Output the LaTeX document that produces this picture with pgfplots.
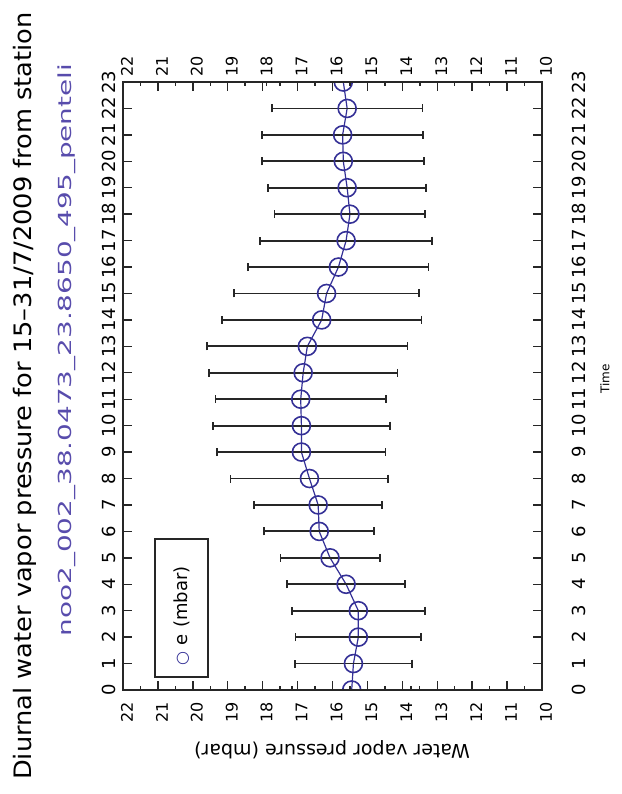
\documentclass[border=0pt]{standalone}
\usepackage{pgfplots}
\pgfplotsset{compat=1.18}
\usepackage{pgfplotstable}
\usepackage{graphicx}
\usepackage{fontspec}
\setmainfont{DejaVu Sans}
\definecolor{markblue}{RGB}{52,48,150}
\definecolor{subblue}{RGB}{88,76,172}

\pgfplotstableread{
t p e
0 15.45 1.70
1 15.40 1.67
2 15.26 1.80
3 15.26 1.91
4 15.61 1.69
5 16.07 1.42
6 16.38 1.58
7 16.41 1.83
8 16.66 2.26
9 16.89 2.41
10 16.89 2.53
11 16.91 2.44
12 16.84 2.70
13 16.72 2.87
14 16.31 2.86
15 16.17 2.65
16 15.83 2.58
17 15.61 2.47
18 15.50 2.16
19 15.58 2.26
20 15.69 2.32
21 15.71 2.30
22 15.58 2.16
23 15.69 2.20
}\vapordata

\pgfplotsset{
  common/.style={
    scale only axis, width=209.5pt, height=304pt,
    xmin=10, xmax=22, x dir=reverse, ymin=0, ymax=23,
    xtick={10,11,...,22}, ytick={0,1,...,23},
    minor x tick num=1,
    tick align=inside, major tick length=4.5pt, minor tick length=2pt,
    axis line style={line width=0.9pt, black!85},
    tick style={line width=0.7pt, black!85},
    /pgf/number format/assume math mode=true,
    clip marker paths=true,
  }
}

\begin{document}
\begin{tikzpicture}
\useasboundingbox (-61.5pt,-52pt) rectangle (249.5pt,345pt);

\begin{axis}[common,
  xticklabel style={font=\fontsize{8}{9}\selectfont, anchor=center, yshift=-11pt, xshift=2pt, rotate=90},
  yticklabel style={font=\fontsize{9}{10}\selectfont, anchor=center, xshift=-7pt, rotate=90},
]
\addplot[color=markblue, line width=0.6pt, mark=o, mark size=4.5pt,
  mark options={line width=0.8pt, markblue},
  error bars/.cd, x dir=both, x explicit,
  error bar style={black!85, line width=0.9pt},
  error mark options={black!85, line width=0.9pt, mark size=2pt, rotate=90}]
  table[x=p, y=t, x error=e] {\vapordata};
\end{axis}

\begin{axis}[common,
  xticklabel pos=right, yticklabel pos=right,
  xticklabel style={font=\fontsize{8}{9}\selectfont, anchor=center, yshift=8pt, xshift=2pt, rotate=90},
  yticklabel style={font=\fontsize{9}{10}\selectfont, anchor=center, xshift=18.5pt, rotate=90},
]
\end{axis}

% titles and labels
\node[rotate=90, anchor=center, font=\fontsize{12}{14}\selectfont] at (-49pt,147pt)
  {\scalebox{1.07}[1]{Diurnal water vapor pressure for 15–31/7/2009 from station}};
\node[rotate=90, anchor=center, text=subblue, font=\fontsize{9}{11}\selectfont] at (-28pt,170pt)
  {\scalebox{1.55}[1]{noo2\_002\_38.0473\_23.8650\_495\_penteli}};
\node[rotate=180, anchor=center, font=\fontsize{9.5}{11}\selectfont] at (104.5pt,-30pt)
  {Water vapor pressure (mbar)};
\node[rotate=90, anchor=center, font=\fontsize{6}{7}\selectfont] at (241pt,155.5pt) {Time};

% legend
\node[draw=black!85, line width=0.8pt, fill=white, rotate=90, anchor=center,
  minimum height=26.5pt, inner xsep=6pt, text width=57pt, align=left,
  font=\fontsize{9}{10}\selectfont] at (29.25pt,41pt)
  {{\color{markblue}\fontsize{8}{9}\selectfont ○}\ e (mbar)};
\end{tikzpicture}
\end{document}
